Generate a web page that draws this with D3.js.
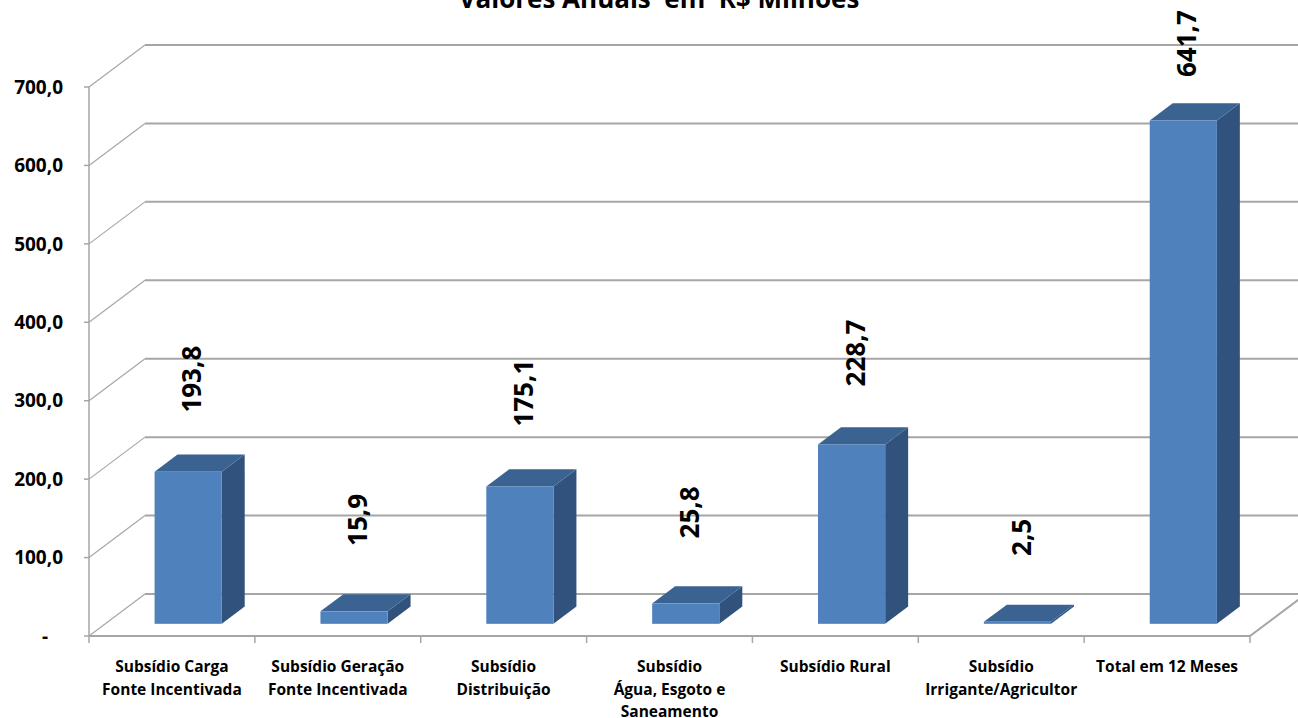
<!DOCTYPE html>
<html>
<head>
<meta charset="utf-8">
<script src="https://cdn.jsdelivr.net/npm/d3@7"></script>
<style>
  html, body { margin: 0; padding: 0; background: #fff; }
  svg { display: block; font-family: "Open Sans", sans-serif; }
</style>
</head>
<body>
<svg id="chart" width="1298" height="718"></svg>
<script>
// Data
// ----
const title = "Valores Anuais  em  R$ Milhões";
const categories = [
    ["Subsídio Carga", "Fonte Incentivada"],
    ["Subsídio Geração", "Fonte Incentivada"],
    ["Subsídio", "Distribuição"],
    ["Subsídio", "Água, Esgoto e", "Saneamento"],
    ["Subsídio Rural"],
    ["Subsídio", "Irrigante/Agricultor"],
    ["Total em 12 Meses"]
];
const values = [193.8, 15.9, 175.1, 25.8, 228.7, 2.5, 641.7];
const yTicks = [0, 100, 200, 300, 400, 500, 600, 700];

// Layout
// ------
const width = 1298, height = 718;
const plot = { left: 89, right: 1250, bottom: 636, top: 87 };
const depth = { x: 56, y: -42 };           // floor depth (front -> back wall)
const barFront = 0.29, barBack = 0.70;     // bar position along the depth
const colors = { front: "#4f81bd", top: "#3b6392", side: "#31527c", grid: "#a6a6a6" };

const svg = d3.select("#chart");
const pt = d3.formatLocale({ decimal: ",", thousands: ".", grouping: [3], currency: ["R$", ""] });
const fmt = pt.format(".1f");

const keys = categories.map((d, i) => i);
const x = d3.scaleBand().domain(keys).range([plot.left, plot.right]).padding(0);
const y = d3.scaleLinear().domain([0, 700]).range([plot.bottom, plot.top]);

// Title (cut off at top as in the original)
svg.append("text")
    .attr("x", 659).attr("y", 8)
    .attr("text-anchor", "middle")
    .attr("font-size", 26).attr("font-weight", 700)
    .style("white-space", "pre")
    .text(title);

// Walls and gridlines
const grid = svg.append("g").attr("fill", "none").attr("stroke", colors.grid);

grid.selectAll("path.wall")
    .data(yTicks)
    .join("path")
    .attr("class", "wall")
    .attr("stroke-width", 1.2)
    .attr("d", d => `M${plot.left},${y(d)}L${plot.left + depth.x},${y(d) + depth.y}`);

grid.selectAll("line.back")
    .data(yTicks)
    .join("line")
    .attr("class", "back")
    .attr("stroke-width", 2)
    .attr("x1", plot.left + depth.x).attr("x2", plot.right + depth.x)
    .attr("y1", d => y(d) + depth.y).attr("y2", d => y(d) + depth.y);

// floor front edge and right edge
grid.append("path")
    .attr("stroke-width", 2)
    .attr("d", `M${plot.left},${y(0)}L${plot.right},${y(0)}L${plot.right + depth.x},${y(0) + depth.y}`);

// y axis
const yAxis = svg.append("g");
yAxis.append("line")
    .attr("stroke", colors.grid).attr("stroke-width", 1.5)
    .attr("x1", plot.left).attr("x2", plot.left)
    .attr("y1", y(0)).attr("y2", y(700));
yAxis.selectAll("line.tick")
    .data(yTicks)
    .join("line")
    .attr("class", "tick")
    .attr("stroke", colors.grid).attr("stroke-width", 1.5)
    .attr("x1", plot.left - 5).attr("x2", plot.left)
    .attr("y1", d => y(d)).attr("y2", d => y(d));
yAxis.selectAll("text")
    .data(yTicks)
    .join("text")
    .attr("x", 63).attr("y", d => y(d))
    .attr("dy", "0.35em")
    .attr("text-anchor", "end")
    .attr("font-size", 19).attr("font-weight", 700)
    .style("white-space", "pre")
    .text(d => d === 0 ? "-   " : fmt(d));

// x axis ticks and labels
const xAxis = svg.append("g");
xAxis.selectAll("line")
    .data(d3.range(categories.length + 1))
    .join("line")
    .attr("stroke", colors.grid).attr("stroke-width", 1.5)
    .attr("x1", i => plot.left + i * x.bandwidth()).attr("x2", i => plot.left + i * x.bandwidth())
    .attr("y1", y(0)).attr("y2", y(0) + 7);

const xLabels = xAxis.selectAll("text")
    .data(categories)
    .join("text")
    .attr("x", (d, i) => x(i) + x.bandwidth() / 2)
    .attr("y", 672)
    .attr("text-anchor", "middle")
    .attr("font-size", 15.5).attr("font-weight", 700);
xLabels.selectAll("tspan")
    .data(d => d)
    .join("tspan")
    .attr("x", function () { return this.parentNode.getAttribute("x"); })
    .attr("dy", (d, i) => i === 0 ? 0 : 22.5)
    .text(d => d);

// Bars (3D boxes)
const bw = x.bandwidth() * 0.405;
const fdx = barFront * depth.x, fdy = barFront * depth.y;
const bdx = (barBack - barFront) * depth.x, bdy = (barBack - barFront) * depth.y;
const bars = values.map((v, i) => {
    const x0 = x(i) + x.bandwidth() / 2 - bw / 2 + fdx;
    const x1 = x0 + bw;
    const bottom = y(0) + fdy;
    const top = y(v) + fdy;
    return { v, i, x0, x1, bottom, top };
});

const barG = svg.append("g");
barG.selectAll("path.side")
    .data(bars)
    .join("path")
    .attr("class", "side")
    .attr("fill", colors.side)
    .attr("d", d => `M${d.x1},${d.top}L${d.x1 + bdx},${d.top + bdy}L${d.x1 + bdx},${d.bottom + bdy}L${d.x1},${d.bottom}Z`);
barG.selectAll("path.top")
    .data(bars)
    .join("path")
    .attr("class", "top")
    .attr("fill", colors.top)
    .attr("d", d => `M${d.x0},${d.top}L${d.x1},${d.top}L${d.x1 + bdx},${d.top + bdy}L${d.x0 + bdx},${d.top + bdy}Z`);
barG.selectAll("rect")
    .data(bars)
    .join("rect")
    .attr("fill", colors.front)
    .attr("x", d => d.x0).attr("y", d => d.top)
    .attr("width", bw).attr("height", d => d.bottom - d.top);

// Value labels (rotated)
svg.append("g").selectAll("text")
    .data(bars)
    .join("text")
    .attr("transform", d => `translate(${(d.x0 + d.x1) / 2 + 4},${d.top - (66 - 0.035 * d.v)}) rotate(-90)`)
    .attr("dy", "0.35em")
    .attr("font-size", 26).attr("font-weight", 700)
    .text(d => fmt(d.v));
</script>
</body>
</html>
